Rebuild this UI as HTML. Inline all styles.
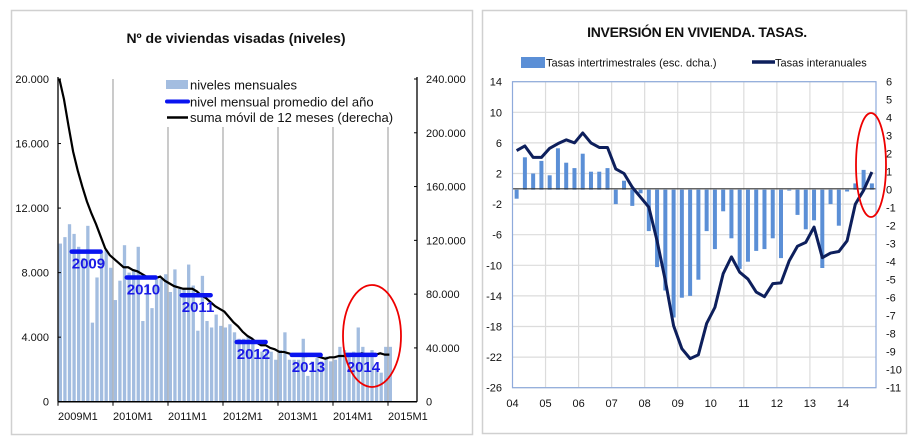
<!DOCTYPE html>
<html><head><meta charset="utf-8"><style>
body{margin:0;background:#fff;width:920px;height:445px;overflow:hidden;font-family:"Liberation Sans",sans-serif}
svg{display:block}
</style></head><body>
<svg id="c" width="920" height="445" xmlns="http://www.w3.org/2000/svg"></svg>
<script>
// ---- Left chart data ----
const years=[2009,2010,2011,2012,2013,2014];
const monthly=[9800,10200,11000,10400,9600,8900,10900,4900,7700,9300,9400,8300,
6300,7500,9700,8000,8200,9600,5000,7300,5800,7600,7600,7900,
6800,8200,7000,7000,8500,7200,4400,7800,5000,4600,5400,4700,
4600,4800,4300,3900,3900,4000,3800,3200,3100,3200,3100,2600,
3200,4300,2600,2600,2600,3900,1600,2500,2700,2500,2800,2500,
2600,3400,3200,2800,3100,4600,3400,2900,3200,2100,1800,3400,3400];
const yearAvg=[9300,7700,6600,3700,2900,2900];
const movingSum=[240,225,205,186,172,160,149,140,132,123,114,109,106,103,100,100,98,97,95,93,92,92,93,90,88,86,85,84,84,84,82,79,77,74,71,69,67,63,59,56,52,49,47,44,42,42,40,39,37,37,36,35,35,34,34,35,34,33,32,33,33,34,34,34,35,35,36,35,35,35,36,35,35];
const leftTicks=["0","4.000","8.000","12.000","16.000","20.000"];
const rightTicks=["0","40.000","80.000","120.000","160.000","200.000","240.000"];
const xLabels=["2009M1","2010M1","2011M1","2012M1","2013M1","2014M1","2015M1"];
// ---- Right chart data ----
const qYears=["04","05","06","07","08","09","10","11","12","13","14"];
const qBars=[-0.5,1.8,0.9,1.6, 0.8,2.3,1.5,1.2, 2.0,1.0,1.0,1.2, -0.8,0.5,-0.9,-0.2, -2.3,-4.3,-5.6,-7.1, -6.0,-5.9,-5.0,-2.3, -3.3,-1.2,-2.7,-4.4, -4.0,-3.4,-3.3,-2.7, -3.8,-0.05,-1.4,-2.2, -1.7,-4.35,-0.8,-2.0, -0.1,0.35,1.1,0.35];
const qLine=[5.0,5.6,4.1,4.1, 5.3,5.9,6.4,6.0, 7.3,6.0,5.4,5.4, 2.6,2.0,0.2,-1.1, -2.4,-6.8,-12.0,-17.9, -20.9,-22.2,-21.7,-17.6, -15.5,-11.1,-8.9,-10.9, -11.8,-13.5,-14.1,-12.4, -12.3,-9.4,-7.5,-7.0, -5.0,-9.0,-8.4,-8.2, -6.8,-2.0,-0.2,2.2];
const rLeftTicks=[14,10,6,2,-2,-6,-10,-14,-18,-22,-26];
const rRightTicks=[6,5,4,3,2,1,0,-1,-2,-3,-4,-5,-6,-7,-8,-9,-10,-11];

const S="http://www.w3.org/2000/svg", svg=document.getElementById('c');
function el(t,a,p){const e=document.createElementNS(S,t);for(const k in a)e.setAttribute(k,a[k]);(p||svg).appendChild(e);return e;}
function tx(x,y,s,a,p){const e=el('text',Object.assign({x:x,y:y},a),p);e.textContent=s;return e;}

// panels
let g=el('rect',{x:11.5,y:10.5,width:461,height:424,fill:'#fff',stroke:'#d0d0d0','stroke-width':1.5});

g=el('rect',{x:482.5,y:10.5,width:424,height:423,fill:'#fff',stroke:'#d0d0d0','stroke-width':1.5});


// ===== LEFT =====
const L={x0:58,x1:388,yb:401.7,yt:79};
const lx=m=>L.x0+m*(L.x1-L.x0)/72;
const ly=v=>L.yb-v/20000*(L.yb-L.yt);
const ry=v=>L.yb-v/240*(L.yb-L.yt);
g=tx(236,43,"Nº de viviendas visadas  (niveles)",{'text-anchor':'middle','font-size':14,'font-weight':'bold',fill:'#111'});

// gridlines
for(let i=1;i<=6;i++){const x=L.x0+i*55;g=el('line',{x1:x,x2:x,y1:i==1?L.yt:127,y2:L.yb,stroke:'#a8a8a8','stroke-width':1.2});
}
// bars
monthly.forEach((v,i)=>{const x=lx(i+0.5);g=el('rect',{x:x-1.6,y:ly(v),width:3.3,height:L.yb-ly(v),fill:'#a3bde0'});
});
// moving sum
g=el('polyline',{points:movingSum.map((v,i)=>lx(i+0.3)+','+ry(v)).join(' '),fill:'none',stroke:'#000','stroke-width':2.2});

// year averages
yearAvg.forEach((v,i)=>{const a=lx(i*12+3),b=lx(i*12+9.3),y=ly(v);
g=el('line',{x1:a,x2:b,y1:y,y2:y,stroke:'#0a14f0','stroke-width':4.5,'stroke-linecap':'round'});

g=tx(a+(i>2?0:0),y+17,String(years[i]),{'font-size':15,'font-weight':'bold',fill:'#1a1ae6'});
});
// axes
g=el('line',{x1:L.x0,x2:L.x0,y1:L.yt-2,y2:L.yb,stroke:'#000','stroke-width':1.3});
g=el('line',{x1:417,x2:417,y1:L.yt-2,y2:L.yb,stroke:'#000','stroke-width':1.3});
g=el('line',{x1:L.x0,x2:417,y1:L.yb,y2:L.yb,stroke:'#000','stroke-width':1.5});
leftTicks.forEach((t,i)=>{const y=ly(i*4000);el('line',{x1:L.x0,x2:L.x0+3,y1:y,y2:y,stroke:'#000'});
g=tx(49,y+4,t,{'text-anchor':'end','font-size':11,fill:'#111'});});
rightTicks.forEach((t,i)=>{const y=ry(i*40);el('line',{x1:414,x2:417,y1:y,y2:y,stroke:'#000'});
g=tx(426,y+4,t,{'font-size':11,fill:'#111'});});
xLabels.forEach((t,i)=>{const x=L.x0+i*55;el('line',{x1:x,x2:x,y1:L.yb,y2:L.yb+4,stroke:'#000'});
g=tx(x,420,t,{'font-size':11,fill:'#111'});});
// legend
el('rect',{x:165,y:75,width:232,height:52,fill:'#fff'});
g=el('rect',{x:166,y:80,width:22,height:9,fill:'#a3bde0'});
g=tx(190,89.5,"niveles mensuales",{'font-size':13,fill:'#111'});
g=el('line',{x1:167,x2:188,y1:101.5,y2:101.5,stroke:'#0a14f0','stroke-width':4,'stroke-linecap':'round'});
g=tx(190,106.5,"nivel mensual promedio del año",{'font-size':13,fill:'#111'});
g=el('line',{x1:167,x2:188,y1:117.5,y2:117.5,stroke:'#000','stroke-width':2.5});
g=tx(190,122,"suma móvil de 12 meses (derecha)",{'font-size':13,fill:'#111'});
g=el('ellipse',{cx:372,cy:336,rx:29,ry:51,fill:'none',stroke:'#e00','stroke-width':1.8});

// ===== RIGHT =====
const R={x0:512.5,x1:876,yt:81.7,yb:387.7};
const qx=i=>R.x0+(i+0.5)*(R.x1-R.x0)/44;
const rly=v=>R.yt+(14-v)*(R.yb-R.yt)/40;
const rry=v=>R.yt+(6-v)*(R.yb-R.yt)/17;
g=tx(697,37,"INVERSIÓN EN VIVIENDA. TASAS.",{'text-anchor':'middle','font-size':14,'font-weight':'bold',fill:'#111','letter-spacing':'-0.3'});

g=el('rect',{x:521,y:57,width:24,height:11,fill:'#5b8fd6'});
g=tx(546,66.5,"Tasas intertrimestrales (esc. dcha.)",{'font-size':11,fill:'#111'});
g=el('line',{x1:752,x2:775,y1:62,y2:62,stroke:'#0d1f5c','stroke-width':3.5});
g=tx(775,66.5,"Tasas interanuales",{'font-size':11,fill:'#111'});
rLeftTicks.forEach(t=>{const y=rly(t);g=el('line',{x1:R.x0,x2:R.x1,y1:y,y2:y,stroke:'#dcdcdc','stroke-width':1.2});
g=tx(502,y+4,String(t),{'text-anchor':'end','font-size':11,fill:'#111'});});
qYears.forEach((t,i)=>{const x=R.x0+i*4*(R.x1-R.x0)/44;
if(i>0){g=el('line',{x1:x,x2:x,y1:R.yt,y2:R.yb,stroke:'#dcdcdc','stroke-width':1.2});}
g=tx(x,407,t,{'text-anchor':'middle','font-size':11,fill:'#111'});});
rRightTicks.forEach(t=>{g=tx(886,rry(t)+4,String(t),{'font-size':11,fill:'#111'});});
qBars.forEach((v,i)=>{const x=qx(i),y0=rry(0),y=rry(v);g=el('rect',{x:x-2,y:Math.min(y,y0),width:4,height:Math.abs(y-y0),fill:'#5b8fd6'});
});
g=el('line',{x1:R.x0,x2:R.x1,y1:rly(0),y2:rly(0),stroke:'#333','stroke-width':1.2});
g=el('polyline',{points:qLine.map((v,i)=>qx(i)+','+rly(v)).join(' '),fill:'none',stroke:'#0d1f5c','stroke-width':3,'stroke-linejoin':'round'});

g=el('rect',{x:R.x0,y:R.yt,width:R.x1-R.x0,height:R.yb-R.yt,fill:'none',stroke:'#8eaadb','stroke-width':1.2});
g=el('ellipse',{cx:871,cy:165,rx:15,ry:52,fill:'none',stroke:'#e00','stroke-width':1.8});
</script>
</body></html>
